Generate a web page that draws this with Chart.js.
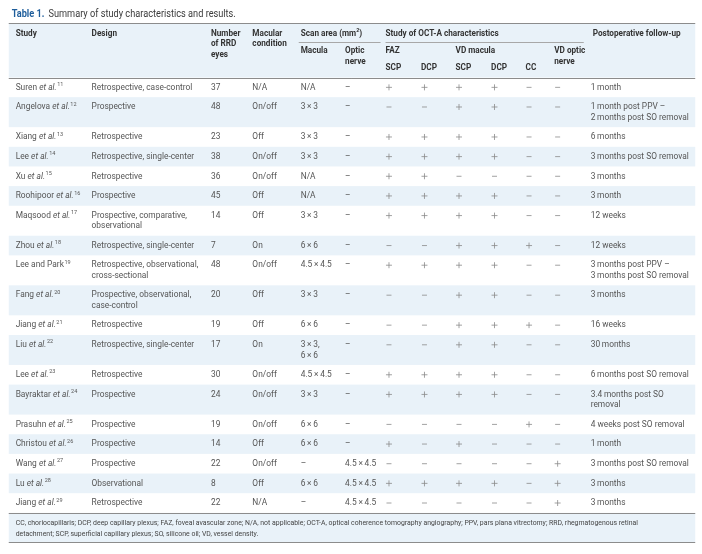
<!DOCTYPE html>
<html>
<head>
<meta charset="utf-8">
<script src="https://cdn.jsdelivr.net/npm/chart.js@4.4.1/dist/chart.umd.min.js"></script>
<style>
html, body { margin: 0; padding: 0; background: #fff; }
#wrap { width: 702px; height: 554px; }
</style>
</head>
<body>
<div id="wrap"><canvas id="studyTable" width="702" height="554"></canvas></div>
<script>
// table data, one array per column
const studyAuthors = ['Suren', 'Angelova', 'Xiang', 'Lee', 'Xu', 'Roohipoor', 'Maqsood', 'Zhou', 'Lee and Park', 'Fang',
    'Jiang', 'Liu', 'Lee', 'Bayraktar', 'Prasuhn', 'Christou', 'Wang', 'Lu', 'Jiang'];
const studyEtAl = [true, true, true, true, true, true, true, true, false, true, true, true, true, true, true, true, true, true, true];
const studyRefs = [11, 12, 13, 14, 15, 16, 17, 18, 19, 20, 21, 22, 23, 24, 25, 26, 27, 28, 29];
const designs = ['Retrospective, case-control', 'Prospective', 'Retrospective', 'Retrospective, single-center', 'Retrospective',
    'Prospective', 'Prospective, comparative,\nobservational', 'Retrospective, single-center',
    'Retrospective, observational,\ncross-sectional', 'Prospective, observational,\ncase-control', 'Retrospective',
    'Retrospective, single-center', 'Retrospective', 'Prospective', 'Prospective', 'Prospective', 'Prospective',
    'Observational', 'Retrospective'];
const rrdEyes = [37, 48, 23, 38, 36, 45, 14, 7, 48, 20, 19, 17, 30, 24, 19, 14, 22, 8, 22];
const macularCondition = ['N/A', 'On/off', 'Off', 'On/off', 'On/off', 'Off', 'Off', 'On', 'On/off', 'Off', 'Off', 'On',
    'On/off', 'On/off', 'On/off', 'Off', 'On/off', 'Off', 'N/A'];
const scanMacula = ['N/A', '3\u2009×\u20093', '3\u2009×\u20093', '3\u2009×\u20093', 'N/A', 'N/A', '3\u2009×\u20093', '6\u2009×\u20096',
    '4.5\u2009×\u20094.5', '3\u2009×\u20093', '6\u2009×\u20096', '3\u2009×\u20093,\n6\u2009×\u20096', '4.5\u2009×\u20094.5',
    '3\u2009×\u20093', '6\u2009×\u20096', '6\u2009×\u20096', '–', '6\u2009×\u20096', '–'];
const scanOptic = ['–', '–', '–', '–', '–', '–', '–', '–', '–', '–', '–', '–', '–', '–', '–', '–',
    '4.5\u2009×\u20094.5', '4.5\u2009×\u20094.5', '4.5\u2009×\u20094.5'];
const fazScp = ['+', '-', '+', '+', '+', '+', '+', '-', '+', '-', '-', '-', '+', '+', '-', '+', '-', '+', '-'];
const fazDcp = ['+', '-', '+', '+', '+', '+', '+', '-', '+', '-', '-', '-', '+', '+', '-', '-', '-', '+', '-'];
const vdScp = ['+', '+', '+', '+', '-', '+', '+', '+', '+', '+', '+', '+', '+', '+', '-', '+', '-', '+', '-'];
const vdDcp = ['+', '+', '+', '+', '-', '+', '+', '+', '+', '+', '+', '+', '+', '+', '-', '-', '-', '+', '-'];
const vdCc = ['-', '-', '-', '-', '-', '-', '-', '+', '-', '-', '+', '-', '-', '-', '+', '-', '-', '-', '-'];
const vdOptic = ['-', '-', '-', '-', '-', '-', '-', '-', '-', '-', '-', '-', '-', '-', '-', '-', '+', '+', '+'];
const followUp = ['1\u2009month', '1\u2009month post PPV –\n2\u2009months post SO removal', '6\u2009months',
    '3\u2009months post SO removal', '3\u2009months', '3\u2009month', '12 weeks', '12 weeks',
    '3\u2009months post PPV –\n3\u2009months post SO removal', '3\u2009months', '16 weeks', '30\u2009months',
    '6\u2009months post SO removal', '3.4\u2009months post SO\nremoval', '4 weeks post SO removal', '1\u2009month',
    '3\u2009months post SO removal', '3\u2009months', '3\u2009months'];

const titleLabel = 'Table 1.';
const titleText = 'Summary of study characteristics and results.';
const footnotes = ['CC, choriocapillaris; DCP, deep capillary plexus; FAZ, foveal avascular zone; N/A, not applicable; OCT-A, optical coherence tomography angiography; PPV, pars plana vitrectomy; RRD, rhegmatogenous retinal',
    'detachment; SCP, superficial capillary plexus; SO, silicone oil; VD, vessel density.'];

// layout
const colX = { study: 11, design: 88, eyes: 209, macular: 251, macula: 300, optic: 345,
    fazScp: 386, fazDcp: 422, vdScp: 457, vdDcp: 493, cc: 528, vdOptic: 557, followUp: 594 };
const tableTop = 19, headBottom = 74, rowBase = 20, lineStep = 10.5;
const blueBg = '#e9f2f9';
const bodyColor = '#555555';
const headColor = '#333333';
const bodyFont = '9px Roboto';
const bodySX = 0.93;
const headFont = 'bold 9px Roboto';
const headSX = 0.91;

// row tops from the number of lines in each row
const rowLines = studyAuthors.map((s, i) => Math.max(
    designs[i].split('\n').length, scanMacula[i].split('\n').length, followUp[i].split('\n').length));
const rowTops = [];
let acc = headBottom;
rowLines.forEach(n => { rowTops.push(acc); acc += rowBase + lineStep * (n - 1); });
const tableBottom = acc;
const rowMid = i => rowTops[i] + 10;

const markCols = [['fazScp', fazScp], ['fazDcp', fazDcp], ['vdScp', vdScp], ['vdDcp', vdDcp], ['cc', vdCc], ['vdOptic', vdOptic]];
const plusPoints = [], minusPoints = [];
markCols.forEach(([key, arr]) => {
    arr.forEach((v, i) => {
        const p = { x: colX[key] + 3.5, y: rowMid(i) };
        if (v === '+') plusPoints.push(p); else minusPoints.push(p);
    });
});

function txt(ctx, s, x, y, font, color, sx) {
    ctx.save();
    ctx.font = font;
    ctx.fillStyle = color;
    ctx.textBaseline = 'middle';
    ctx.textAlign = 'left';
    ctx.translate(x, y);
    ctx.scale(sx, 1);
    ctx.fillText(s, 0, 0);
    const w = ctx.measureText(s).width * sx;
    ctx.restore();
    return w;
}

function multi(ctx, s, x, y, font, color, sx) {
    s.split('\n').forEach((line, k) => txt(ctx, line, x, y + k * lineStep, font, color, sx));
}

const head = (ctx, s, x, y) => multi(ctx, s, x, y, headFont, headColor, headSX);
const body = (ctx, s, x, y) => multi(ctx, s, x, y, bodyFont, bodyColor, bodySX);

const tablePlugin = {
    id: 'tablePlugin',
    beforeDatasetsDraw(chart) {
        const ctx = chart.ctx;
        const xs = chart.scales.x, ys = chart.scales.y;
        const X = v => xs.getPixelForValue(v);
        const Y = v => ys.getPixelForValue(v);
        const left = X(4), right = X(700);

        // title
        let w = txt(ctx, titleLabel, X(7), Y(9.5), 'bold 10px Roboto', '#1e5d9b', 0.92);
        txt(ctx, titleText, X(7) + w + 4, Y(9.5), '10px Roboto', '#3a3a3a', 0.92);

        // backgrounds
        ctx.fillStyle = blueBg;
        ctx.fillRect(left, Y(tableTop), right - left, Y(headBottom) - Y(tableTop));
        rowTops.forEach((t, i) => {
            if (i % 2 === 1) {
                const b = i + 1 < rowTops.length ? rowTops[i + 1] : tableBottom;
                ctx.fillRect(left, Y(t), right - left, Y(b) - Y(t));
            }
        });
        const footBottom = tableBottom + 30;
        ctx.fillRect(left, Y(tableBottom), right - left, Y(footBottom) - Y(tableBottom));

        // rules
        ctx.strokeStyle = '#8c8c8c';
        ctx.lineWidth = 1;
        [tableTop, headBottom, tableBottom, footBottom].forEach(v => {
            ctx.beginPath();
            ctx.moveTo(left, Math.round(Y(v)) + 0.5);
            ctx.lineTo(right, Math.round(Y(v)) + 0.5);
            ctx.stroke();
        });
        ctx.strokeStyle = '#a8a8a8';
        [[298, 381], [386, 587]].forEach(([a, b]) => {
            ctx.beginPath();
            ctx.moveTo(X(a), Math.round(Y(37.5)) + 0.5);
            ctx.lineTo(X(b), Math.round(Y(37.5)) + 0.5);
            ctx.stroke();
        });

        // header
        const h1 = Y(29), h2 = Y(47), h3 = Y(64);
        head(ctx, 'Study', X(colX.study), h1);
        head(ctx, 'Design', X(colX.design), h1);
        head(ctx, 'Number\nof RRD\neyes', X(colX.eyes), h1);
        head(ctx, 'Macular\ncondition', X(colX.macular), h1);
        w = txt(ctx, 'Scan area (mm', X(colX.macula), h1, headFont, headColor, headSX);
        w += txt(ctx, '2', X(colX.macula) + w, h1 - 2.5, 'bold 5.5px Roboto', headColor, 1);
        txt(ctx, ')', X(colX.macula) + w, h1, headFont, headColor, headSX);
        head(ctx, 'Study of OCT-A characteristics', X(colX.fazScp), h1);
        head(ctx, 'Postoperative follow-up', X(colX.followUp + 2), h1);
        head(ctx, 'Macula', X(colX.macula), h2);
        head(ctx, 'Optic\nnerve', X(colX.optic), h2);
        head(ctx, 'FAZ', X(colX.fazScp), h2);
        head(ctx, 'VD macula', X(colX.vdScp), h2);
        head(ctx, 'VD optic\nnerve', X(colX.vdOptic), h2);
        head(ctx, 'SCP', X(colX.fazScp), h3);
        head(ctx, 'DCP', X(colX.fazDcp), h3);
        head(ctx, 'SCP', X(colX.vdScp), h3);
        head(ctx, 'DCP', X(colX.vdDcp), h3);
        head(ctx, 'CC', X(colX.cc), h3);

        // body
        studyAuthors.forEach((name, i) => {
            const y = Y(rowMid(i));
            let x = X(colX.study);
            x += txt(ctx, name, x, y, bodyFont, bodyColor, bodySX);
            if (studyEtAl[i]) {
                x += txt(ctx, ' ', x, y, bodyFont, bodyColor, bodySX);
                x += txt(ctx, 'et al.', x, y, 'italic 9px Roboto', bodyColor, bodySX);
            }
            txt(ctx, String(studyRefs[i]), x + 0.5, y - 2.8, '5.5px Roboto', bodyColor, 1);
            body(ctx, designs[i], X(colX.design), y);
            body(ctx, String(rrdEyes[i]), X(colX.eyes), y);
            body(ctx, macularCondition[i], X(colX.macular), y);
            body(ctx, scanMacula[i], X(colX.macula), y);
            body(ctx, scanOptic[i], X(colX.optic), y);
            body(ctx, followUp[i], X(colX.followUp), y);
        });

        // footnote
        footnotes.forEach((line, k) => {
            txt(ctx, line, X(colX.study), Y(tableBottom + 10.5 + k * 11.5), '7.2px Roboto', '#444', 0.96);
        });
    }
};

new Chart(document.getElementById('studyTable'), {
    type: 'scatter',
    data: {
        datasets: [{
            label: '+',
            data: plusPoints,
            pointStyle: 'cross',
            radius: 3,
            borderColor: '#8a8a8a',
            borderWidth: 0.8
        }, {
            label: '–',
            data: minusPoints,
            pointStyle: 'line',
            radius: 2.5,
            borderColor: '#8a8a8a',
            borderWidth: 0.8
        }]
    },
    options: {
        responsive: false,
        animation: false,
        devicePixelRatio: 1,
        layout: { padding: 0 },
        events: [],
        scales: {
            x: { type: 'linear', min: 0, max: 702, display: false },
            y: { type: 'linear', min: 0, max: 554, reverse: true, display: false }
        },
        plugins: {
            legend: { display: false },
            tooltip: { enabled: false }
        }
    },
    plugins: [tablePlugin]
});
</script>
</body>
</html>
